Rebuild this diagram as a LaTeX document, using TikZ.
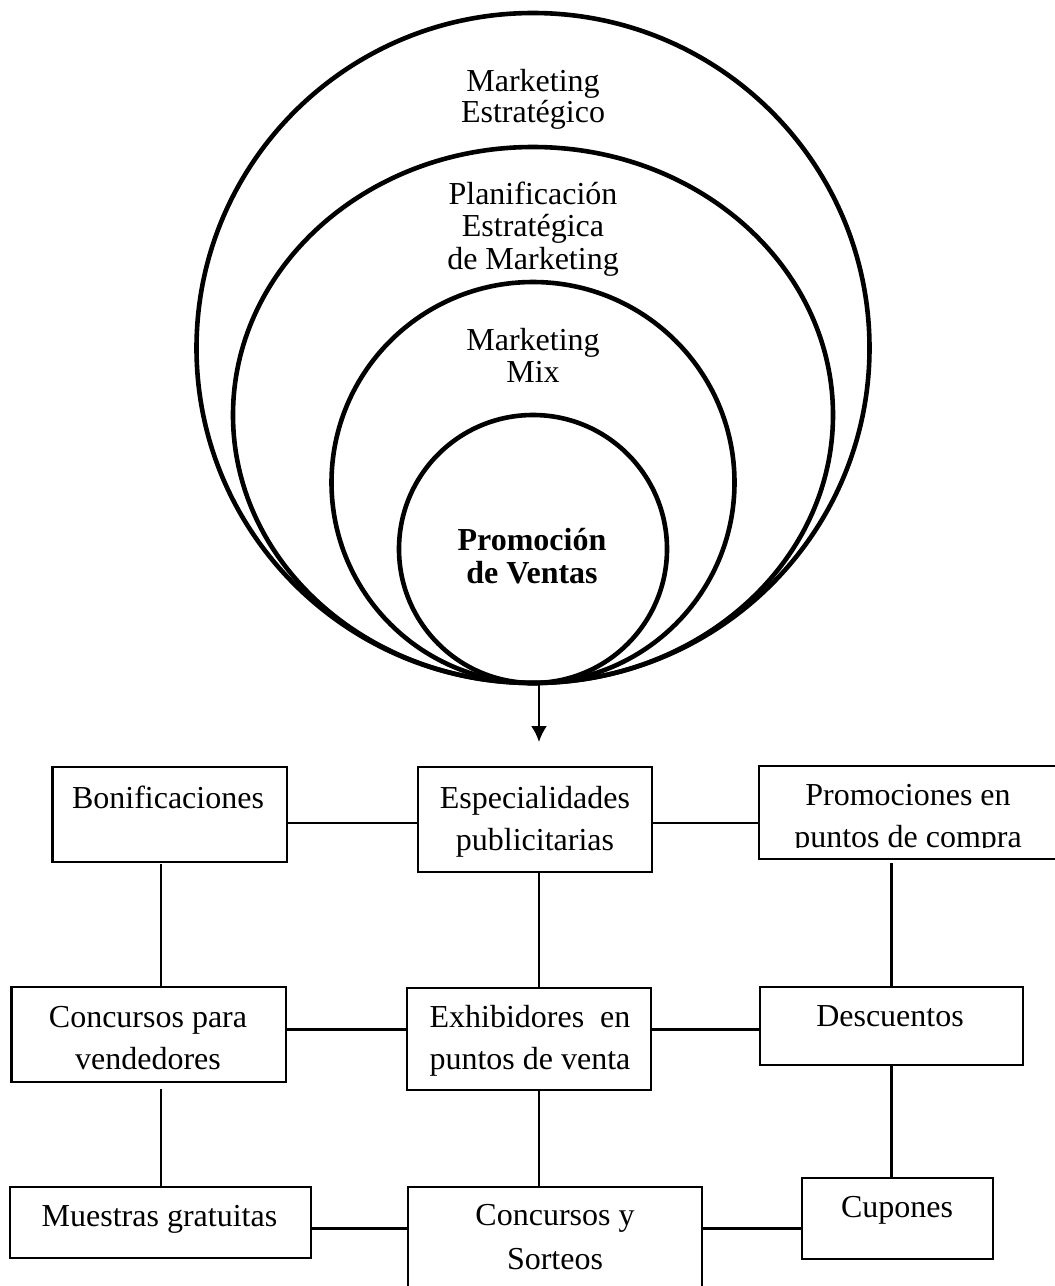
\documentclass[tikz,border=0pt]{standalone}
\usepackage{fontspec}
\setmainfont{Liberation Serif}
\usetikzlibrary{shapes.geometric,arrows.meta,calc}

% multi-line text whose baseline is that of its first line
\newcommand{\lines}[1]{\begin{tabular}[t]{@{}c@{}}#1\end{tabular}}

\begin{document}
\begin{tikzpicture}[x=0.5pt,y=-0.5pt,
  ring/.style={draw, ellipse, line width=2.3pt, inner sep=0pt, outer sep=0pt},
  ringtext/.style={anchor=base, inner sep=0pt, font=\fontsize{16}{16}\selectfont},
  box/.style={draw, rectangle, line width=1.1pt, inner sep=0pt, outer sep=0pt},
  boxtext/.style={anchor=base, inner sep=0pt, font=\fontsize{16}{21}\selectfont},
  link/.style={line width=1.1pt},
]
\path[use as bounding box] (0,0) rectangle (1055,1286);
\clip (0,0) rectangle (1055,1286);

% guide positions for the connector grid
\coordinate (colA) at (161,0);
\coordinate (colB) at (539,0);
\coordinate (colC) at (891.5,0);
\coordinate (rowA) at (0,823);
\coordinate (rowB) at (0,1029.5);
\coordinate (rowC) at (0,1228.5);
\coordinate (tip) at (539,742);
\coordinate (promcut) at (0,847);

% nested rings, all touching at the bottom
\node[ring, minimum width=336.5pt, minimum height=335pt] (c1) at (533,348) {};
\node[ring, minimum width=300pt, minimum height=268pt] (c2) at (533,415) {};
\node[ring, minimum width=201.5pt, minimum height=200.5pt] (c3) at (533,482.5) {};
\node[ring, minimum width=134pt, minimum height=134pt] (c4) at (533,549) {};

\node[ringtext, font=\fontsize{16}{15.5}\selectfont] (c1-t) at (533,91) {\lines{Marketing\\Estratégico}};
\node[ringtext, font=\fontsize{16}{16.25}\selectfont] (c2-t) at (533,204) {\lines{Planificación\\Estratégica\\de Marketing}};
\node[ringtext] (c3-t) at (533,350) {\lines{Marketing\\Mix}};
\node[ringtext, font=\fontsize{16}{16.5}\selectfont\bfseries] (c4-t) at (532,550) {\lines{Promoción\\de Ventas}};

% boxes
\node[box, minimum width=117.25pt, minimum height=47.5pt] (bon) at (169.75,814.5) {};
\node[box, minimum width=117pt, minimum height=52.5pt] (esp) at (535,819.5) {};
\node[box, minimum width=150.5pt, minimum height=46.5pt] (prom) at (909.5,812.5) {};
\node[box, minimum width=137.25pt, minimum height=47.5pt] (cpv) at (148.75,1034.5) {};
\node[box, minimum width=122pt, minimum height=51pt] (exh) at (529,1039) {};
\node[box, minimum width=131.5pt, minimum height=39pt] (desc) at (891.5,1026) {};
\node[box, minimum width=150.5pt, minimum height=35.5pt] (mue) at (160.5,1222.5) {};
\node[box, minimum width=147pt, minimum height=56.5pt] (cys) at (555,1243.5) {};
\node[box, minimum width=95.5pt, minimum height=40.5pt] (cup) at (897.5,1218.5) {};

% box texts
\node[boxtext] (bon-t) at (168,808) {Bonificaciones};
\node[boxtext] (esp-t) at (535,808) {\lines{Especialidades\\publicitarias}};
\begin{scope}
  \clip (prom.north west) rectangle (prom.east |- promcut);
  \node[boxtext] (prom-t) at (908,805) {\lines{Promociones en\\puntos de compra}};
\end{scope}
\node[boxtext] (cpv-t) at (148,1027) {\lines{Concursos para\\vendedores}};
\node[boxtext] (exh-t) at (530,1027) {\lines{Exhibidores~~en\\puntos de venta}};
\node[boxtext] (desc-t) at (890,1026) {Descuentos};
\node[boxtext] (mue-t) at (159.5,1226) {Muestras gratuitas};
\node[boxtext, font=\fontsize{16}{22}\selectfont] (cys-t) at (555,1225.5) {\lines{Concursos y\\Sorteos}};
\node[boxtext] (cup-t) at (897,1217) {Cupones};

% horizontal links
\draw[link] (bon.east |- rowA) -- (esp.west |- rowA);
\draw[link] (esp.east |- rowA) -- (prom.west |- rowA);
\draw[link] (cpv.east |- rowB) -- (exh.west |- rowB);
\draw[link] (exh.east |- rowB) -- (desc.west |- rowB);
\draw[link] (mue.east |- rowC) -- (cys.west |- rowC);
\draw[link] (cys.east |- rowC) -- (cup.west |- rowC);

% vertical links
\draw[link] ($(bon.south -| colA)+(0,2)$) -- (cpv.north -| colA);
\draw[link] ($(cpv.south -| colA)+(0,7)$) -- (mue.north -| colA);
\draw[link] (esp.south -| colB) -- (exh.north -| colB);
\draw[link] (exh.south -| colB) -- (cys.north -| colB);
\draw[link] ($(prom.south -| colC)+(0,4)$) -- (desc.north -| colC);
\draw[link] (desc.south -| colC) -- (cup.north -| colC);

% arrow from the rings down to the boxes
\draw[link, -{Latex[length=8pt,width=8pt]}] (c1.south -| colB) -- (tip);
\end{tikzpicture}
\end{document}
